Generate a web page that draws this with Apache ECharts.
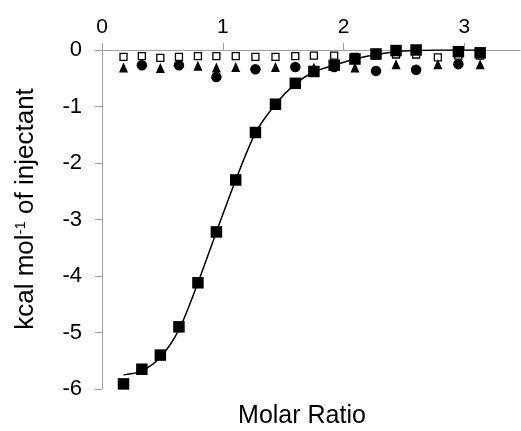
<!DOCTYPE html>
<html>
<head>
<meta charset="utf-8">
<script src="https://cdn.jsdelivr.net/npm/echarts@6/dist/echarts.min.js"></script>
<style>html,body{margin:0;padding:0;background:#fff;}#c{width:521px;height:431px;}</style>
</head>
<body>
<div id="c"></div>
<script>
// Molar ratio of each injection
var molarRatio = [0.178, 0.33, 0.483, 0.637, 0.794, 0.947, 1.107, 1.27, 1.436, 1.60, 1.754, 1.922, 2.094, 2.268, 2.434, 2.60, 2.78, 2.95, 3.13];
// Filled squares (main titration), null = not visible
var filledSquares = [-5.91, -5.65, -5.40, -4.90, -4.12, -3.22, -2.30, -1.46, -0.96, -0.59, -0.38, -0.27, -0.16, -0.07, -0.01, 0.0, null, -0.03, -0.05];
// Open squares
var openSquares = [-0.12, -0.11, -0.14, -0.12, -0.11, -0.11, -0.11, -0.12, -0.12, -0.11, -0.10, -0.10, -0.12, -0.10, -0.08, -0.08, -0.13, -0.10, -0.10];
// Filled triangles
var triangles = [-0.31, null, -0.32, null, -0.28, -0.31, -0.30, null, -0.30, null, -0.31, null, -0.31, null, -0.25, null, -0.25, null, -0.25];
// Filled circles
var circles = [null, -0.27, null, -0.27, null, -0.48, null, -0.34, null, -0.30, null, -0.30, null, -0.37, null, -0.35, null, -0.25, null];
// Fitted curve
var fitX = [0.178, 0.33, 0.483, 0.637, 0.794, 0.947, 1.107, 1.27, 1.436, 1.60, 1.754, 1.922, 2.094, 2.268, 2.434, 2.60, 2.78, 2.95, 3.13];
var fitY = [-5.75, -5.68, -5.44, -4.95, -4.12, -3.22, -2.30, -1.47, -0.96, -0.60, -0.39, -0.27, -0.16, -0.08, -0.03, -0.01, 0.0, 0.0, 0.0];
var xTicks = [0, 1, 2, 3];

function pairs(xs, ys) {
  var out = [];
  for (var i = 0; i < xs.length; i++) {
    if (ys[i] !== null) out.push([xs[i], ys[i]]);
  }
  return out;
}

var FONT = 'Liberation Sans, Arial, sans-serif';
var chart = echarts.init(document.getElementById('c'), null, {renderer: 'canvas'});
chart.setOption({
  animation: false,
  backgroundColor: '#fff',
  grid: {left: 102, top: 50, width: 418, height: 339},
  xAxis: {
    type: 'value', position: 'top', min: 0, max: 3.46,
    axisLine: {show: true, onZero: false, lineStyle: {color: '#a0a0a0', width: 1}},
    axisTick: {show: true, length: 7, customValues: xTicks, lineStyle: {color: '#a0a0a0'}},
    axisLabel: {customValues: xTicks, fontSize: 21, color: '#000', fontFamily: FONT, margin: 12},
    splitLine: {show: false}
  },
  yAxis: {
    type: 'value', min: -6, max: 0, interval: 1,
    axisLine: {show: true, onZero: false, lineStyle: {color: '#a0a0a0', width: 1}},
    axisTick: {show: true, length: 7, lineStyle: {color: '#a0a0a0'}},
    axisLabel: {fontSize: 22, color: '#000', fontFamily: FONT, margin: 20},
    splitLine: {show: false}
  },
  graphic: [
    {type: 'text', x: 26, y: 209, rotation: Math.PI / 2,
     style: {text: '{n|kcal mol}{s|-1}{n| of injectant}', align: 'center', verticalAlign: 'middle',
       rich: {n: {fontSize: 26, fontFamily: FONT, fill: '#000'}, s: {fontSize: 15, fontFamily: FONT, fill: '#000', verticalAlign: 'top', padding: [0, 0, 10, 0]}}}},
    {type: 'text', x: 302, y: 416,
     style: {text: 'Molar Ratio', fontSize: 25, fontFamily: FONT, fill: '#000', align: 'center', verticalAlign: 'middle'}}
  ],
  series: [
    {type: 'scatter', data: pairs(molarRatio, openSquares), symbol: 'rect', symbolSize: 7,
     itemStyle: {color: '#fff', borderColor: '#000', borderWidth: 1.3, opacity: 1}},
    {type: 'scatter', data: pairs(molarRatio, triangles), symbol: 'triangle', symbolSize: [9, 10],
     itemStyle: {color: '#000', opacity: 1}},
    {type: 'scatter', data: pairs(molarRatio, circles), symbol: 'circle', symbolSize: 10.5,
     itemStyle: {color: '#000', opacity: 1}},
    {type: 'line', data: pairs(fitX, fitY), showSymbol: false, smooth: 0.3,
     lineStyle: {color: '#000', width: 1.5}},
    {type: 'scatter', data: pairs(molarRatio, filledSquares), symbol: 'rect', symbolSize: 11.5,
     itemStyle: {color: '#000', opacity: 1}}
  ]
});
</script>
</body>
</html>
